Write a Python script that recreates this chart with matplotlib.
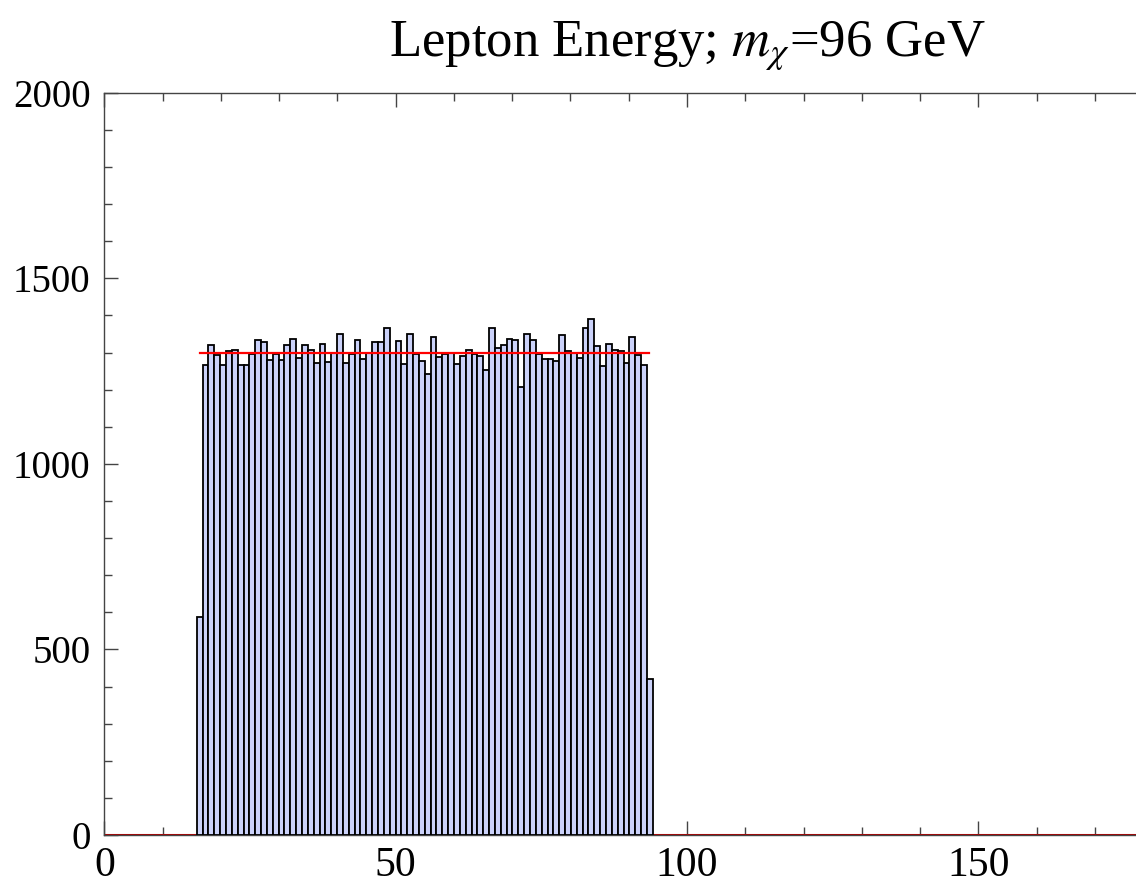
import numpy as np
import matplotlib
matplotlib.use("Agg")
import matplotlib.pyplot as plt
from matplotlib.ticker import MultipleLocator, FixedLocator, FixedFormatter

# ---- data ----
counts = [587, 1267, 1321, 1292, 1267, 1305, 1308, 1265, 1267, 1297,
          1334, 1327, 1279, 1295, 1279, 1321, 1336, 1285, 1321, 1307,
          1273, 1323, 1275, 1300, 1349, 1273, 1297, 1334, 1283, 1299,
          1328, 1329, 1366, 1300, 1331, 1270, 1349, 1297, 1276, 1241,
          1343, 1287, 1296, 1298, 1270, 1290, 1308, 1297, 1290, 1254,
          1365, 1312, 1319, 1337, 1335, 1208, 1349, 1335, 1297, 1282,
          1282, 1276, 1346, 1305, 1300, 1284, 1365, 1391, 1317, 1264,
          1323, 1306, 1305, 1271, 1341, 1293, 1267, 420]
bin_start = 15.85
bin_width = 1.0035
expected_level = 1300
expected_range = [16.4, 93.4]
x_ticks = [0, 50, 100, 150, 200]
x_tick_labels = ["0", "50", "100", "150", ""]
title = r"Lepton Energy; $m_\chi$=96 GeV"

plt.rcParams['font.family'] = ['Liberation Serif', 'DejaVu Serif']
plt.rcParams['mathtext.fontset'] = 'stix'

W, H = 1136, 889
fig = plt.figure(figsize=(W / 100, H / 100), dpi=100)
left = 104.4 / W
bottom = (H - 835) / H
height = 742.3 / H
width = 200 * 5.826 / W
ax = fig.add_axes([left, bottom, width, height])

edges = bin_start + bin_width * np.arange(len(counts) + 1)
ax.bar(edges[:-1], counts, width=bin_width, align='edge',
       color='#cbd2fa', edgecolor='black', linewidth=1.3, zorder=3)

# expected flat distribution
ax.plot([0, expected_range[0]], [0, 0], color='#b00000', lw=2.2, zorder=2,
        solid_capstyle='butt')
ax.plot([expected_range[1], 200], [0, 0], color='#b00000', lw=2.2, zorder=2,
        solid_capstyle='butt')
ax.plot(expected_range, [expected_level, expected_level], color='red',
        lw=1.6, zorder=4)

ax.set_xlim(0, 200)
ax.set_ylim(0, 2000)
ax.xaxis.set_major_locator(FixedLocator(x_ticks))
ax.xaxis.set_major_formatter(FixedFormatter(x_tick_labels))
ax.xaxis.set_minor_locator(MultipleLocator(10))
ax.yaxis.set_major_locator(MultipleLocator(500))
ax.yaxis.set_minor_locator(MultipleLocator(100))
ax.tick_params(which='both', direction='in', top=True, right=True,
               color='#444444', width=1.0)
ax.tick_params(which='major', length=10)
ax.tick_params(which='minor', length=6)
ax.tick_params(axis='x', pad=8, labelsize=30)
ax.tick_params(axis='y', pad=10, labelsize=28)
for s in ax.spines.values():
    s.set_color('#444444')
    s.set_linewidth(1.0)

ax.text(0.5, 1 + (92.7 - 56) / 742.3, title, transform=ax.transAxes,
        ha='center', va='baseline', fontsize=38)

fig.savefig('out.png', dpi=100)
